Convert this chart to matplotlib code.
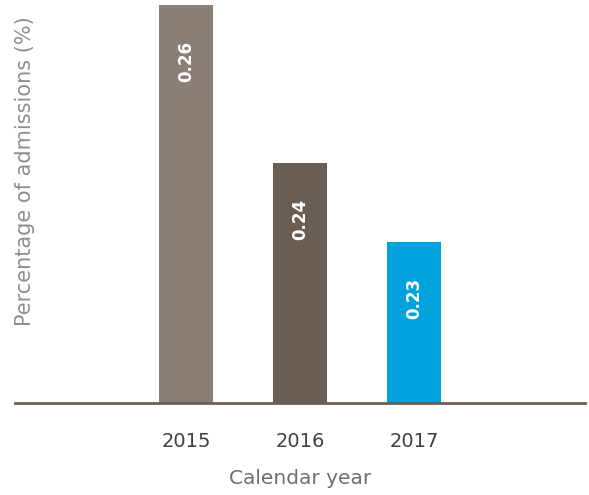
import matplotlib
matplotlib.use("Agg")
import matplotlib.pyplot as plt

years = ["2015", "2016", "2017"]
values = [0.26, 0.24, 0.23]
colors = ["#8a7e77", "#6b5d52", "#00a3dc"]

fig = plt.figure(figsize=(5.89, 4.95), dpi=100)
ax = fig.add_axes([15 / 589, 1 - 403 / 495, 570 / 589, 403 / 495])

x = list(range(len(years)))
bars = ax.bar(x, values, width=0.48, color=colors, zorder=2)

ax.set_xlim(-1.5, len(years) + 0.5)
ax.set_ylim(0.2096, 0.2606)

for bar, v in zip(bars, values):
    ax.annotate(f"{v:.2f}", xy=(bar.get_x() + bar.get_width() / 2, v),
                xytext=(0, -41), textcoords="offset points",
                ha="center", va="center", rotation=90,
                color="white", fontsize=12, fontweight="bold",
                family="DejaVu Sans")

for s in ["top", "right", "left"]:
    ax.spines[s].set_visible(False)
ax.spines["bottom"].set_color("#6b5e55")
ax.spines["bottom"].set_linewidth(2)
ax.spines["bottom"].set_zorder(3)

ax.set_yticks([])
ax.set_xticks(x)
ax.set_xticklabels(years, fontsize=14, color="#404040", family="DejaVu Sans")
ax.tick_params(axis="x", length=0, pad=21)

fig.text(300 / 589, 1 - 478 / 495, "Calendar year", ha="center", va="center",
         fontsize=14.5, color="#6e6e6e", family="DejaVu Sans")
fig.text(25 / 589, 1 - 171 / 495, "Percentage of admissions (%)", ha="center",
         va="center", rotation=90, fontsize=15, color="#8f8f8f",
         family="DejaVu Sans")

fig.savefig("out.png", dpi=100)
